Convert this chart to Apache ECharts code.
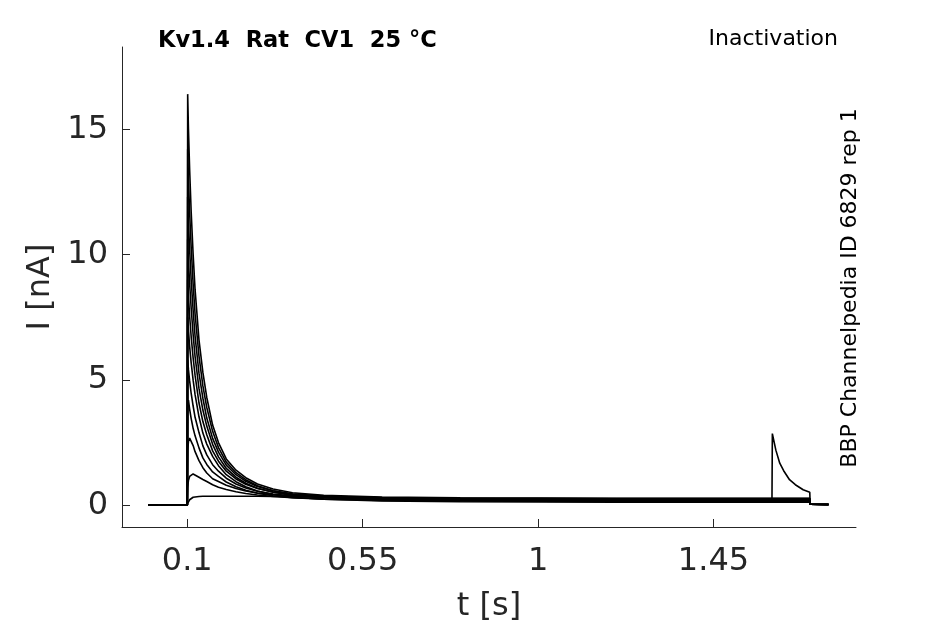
<!DOCTYPE html>
<html>
<head>
<meta charset="utf-8">
<script src="https://cdn.jsdelivr.net/npm/echarts@6/dist/echarts.min.js"></script>
<style>
  html, body { margin: 0; padding: 0; background: #fff; }
  #chart { width: 945px; height: 624px; }
</style>
</head>
<body>
<div id="chart"></div>
<script>
// time points [s], shared by all sweeps
const time = [0, 0.1,
  0.101, 0.103, 0.106, 0.11, 0.115, 0.12, 0.13, 0.14, 0.15, 0.165, 0.18, 0.2,
  0.225, 0.25, 0.28, 0.32, 0.37, 0.45, 0.6, 0.8, 1.0, 1.2, 1.4, 1.6,
  1.601, 1.61, 1.62, 1.63, 1.645, 1.66, 1.68, 1.697, 1.698, 1.745];

// current [nA] per sweep
const sweep1 = [0, 0, 16.4, 15.0, 13.4, 11.7, 10.0, 8.6, 6.6, 5.3, 4.3, 3.2, 2.5, 1.85, 1.4, 1.1, 0.85, 0.65, 0.5, 0.4, 0.33, 0.3, 0.29, 0.28, 0.28, 0.28,
  0.28, 0.28, 0.28, 0.28, 0.28, 0.28, 0.28, 0.28, 0.04, 0.03];
const sweep2 = [0, 0, 14.2, 13.04, 11.68, 10.29, 8.82, 7.63, 5.95, 4.76, 3.9, 2.95, 2.3, 1.72, 1.3, 1.02, 0.78, 0.58, 0.43, 0.31, 0.22, 0.18, 0.16, 0.15, 0.14, 0.14,
  0.14, 0.14, 0.14, 0.14, 0.14, 0.14, 0.14, 0.14, 0.04, 0.03];
const sweep3 = [0, 0, 12.3, 11.33, 10.19, 8.98, 7.77, 6.74, 5.27, 4.27, 3.48, 2.67, 2.12, 1.6, 1.22, 0.96, 0.75, 0.58, 0.46, 0.37, 0.3, 0.27, 0.25, 0.24, 0.24, 0.24,
  0.24, 0.24, 0.24, 0.24, 0.24, 0.24, 0.24, 0.24, 0.04, 0.03];
const sweep4 = [0, 0, 10.6, 9.77, 8.84, 7.85, 6.81, 5.93, 4.66, 3.8, 3.16, 2.43, 1.93, 1.47, 1.12, 0.88, 0.68, 0.52, 0.39, 0.3, 0.23, 0.2, 0.18, 0.17, 0.17, 0.17,
  0.17, 0.17, 0.17, 0.17, 0.17, 0.17, 0.17, 0.17, 0.04, 0.03];
const sweep5 = [0, 0, 9.0, 8.34, 7.55, 6.72, 5.88, 5.18, 4.08, 3.34, 2.81, 2.17, 1.76, 1.36, 1.05, 0.84, 0.67, 0.53, 0.43, 0.36, 0.3, 0.28, 0.27, 0.26, 0.26, 0.26,
  0.26, 0.26, 0.26, 0.26, 0.26, 0.26, 0.26, 0.26, 0.04, 0.03];
const sweep6 = [0, 0, 7.5, 6.99, 6.34, 5.68, 4.99, 4.41, 3.53, 2.88, 2.44, 1.95, 1.58, 1.22, 0.94, 0.74, 0.57, 0.43, 0.32, 0.24, 0.17, 0.14, 0.13, 0.12, 0.12, 0.12,
  0.12, 0.12, 0.12, 0.12, 0.12, 0.12, 0.12, 0.12, 0.04, 0.03];
const sweep7 = [0, 0, 5.8, 5.41, 4.96, 4.46, 3.96, 3.51, 2.9, 2.37, 2.01, 1.62, 1.36, 1.08, 0.85, 0.69, 0.56, 0.45, 0.37, 0.31, 0.26, 0.24, 0.23, 0.22, 0.22, 0.22,
  0.22, 0.22, 0.22, 0.22, 0.22, 0.22, 0.22, 0.22, 0.04, 0.03];
const sweep8 = [0, 0, 3.9, 4.2, 3.84, 3.46, 3.07, 2.77, 2.29, 1.89, 1.63, 1.33, 1.15, 0.93, 0.74, 0.6, 0.48, 0.38, 0.3, 0.24, 0.19, 0.17, 0.16, 0.15, 0.15, 0.15,
  0.15, 0.15, 0.15, 0.15, 0.15, 0.15, 0.15, 0.15, 0.04, 0.03];
const sweep9 = [0, 0, 2.2, 2.55, 2.68, 2.7, 2.38, 2.14, 1.78, 1.5, 1.29, 1.06, 0.95, 0.8, 0.67, 0.57, 0.49, 0.42, 0.37, 0.33, 0.3, 0.28, 0.27, 0.27, 0.27, 0.27,
  0.27, 0.27, 0.27, 0.27, 0.27, 0.27, 0.27, 0.27, 0.04, 0.03];
const sweep10 = [0, 0, 0.7, 1.0, 1.15, 1.22, 1.25, 1.22, 1.12, 1.03, 0.95, 0.82, 0.72, 0.63, 0.54, 0.47, 0.41, 0.35, 0.3, 0.26, 0.22, 0.2, 0.2, 0.19, 0.19, 0.19,
  0.19, 0.19, 0.19, 0.19, 0.19, 0.19, 0.19, 0.19, 0.04, 0.03];
const sweep11 = [0, 0, 0.08, 0.15, 0.22, 0.28, 0.32, 0.34, 0.35, 0.36, 0.36, 0.36, 0.36, 0.36, 0.36, 0.36, 0.36, 0.35, 0.35, 0.34, 0.29, 0.25, 0.23, 0.22, 0.21, 0.21,
  2.86, 2.2, 1.68, 1.38, 1.02, 0.82, 0.62, 0.52, 0.04, 0.03];

const sweeps = [sweep1, sweep2, sweep3, sweep4, sweep5, sweep6, sweep7, sweep8, sweep9, sweep10, sweep11];

const xTicks = [0.1, 0.55, 1, 1.45];
const yTicks = [0, 5, 10, 15];

const chart = echarts.init(document.getElementById('chart'), null, { renderer: 'canvas' });

const textColor = '#262626';

const option = {
  animation: false,
  backgroundColor: '#fff',
  grid: { left: 122, right: 89, top: 47, bottom: 97, outerBoundsMode: 'none' },
  xAxis: {
    type: 'value',
    min: -0.0675,
    max: 1.8156,
    name: 't [s]',
    nameLocation: 'middle',
    nameGap: 64,
    nameTextStyle: { fontSize: 32, color: textColor, fontFamily: 'DejaVu Sans' },
    axisLine: { onZero: false, lineStyle: { color: textColor, width: 1 } },
    axisTick: { show: true, inside: true, length: 8, customValues: xTicks, lineStyle: { color: textColor, width: 1 } },
    axisLabel: {
      customValues: xTicks, fontSize: 32, color: textColor, margin: 19,
      fontFamily: 'DejaVu Sans',
      formatter: v => String(v)
    },
    splitLine: { show: false }
  },
  yAxis: {
    type: 'value',
    min: -0.866,
    max: 18.28,
    name: 'I [nA]',
    nameLocation: 'middle',
    nameGap: 60,
    nameTextStyle: { fontSize: 32, color: textColor, fontFamily: 'DejaVu Sans' },
    axisLine: { show: true, onZero: false, lineStyle: { color: textColor, width: 1 } },
    axisTick: { show: true, inside: true, length: 8, customValues: yTicks, lineStyle: { color: textColor, width: 1 } },
    axisLabel: {
      customValues: yTicks, fontSize: 32, color: textColor, margin: 14,
      fontFamily: 'DejaVu Sans'
    },
    splitLine: { show: false }
  },
  graphic: [
    {
      type: 'text', left: 158, top: 30,
      style: { text: 'Kv1.4  Rat  CV1  25 °C', font: 'bold 22.5px "DejaVu Sans"', fill: '#000' }
    },
    {
      type: 'text', right: 107, top: 28,
      style: { text: 'Inactivation', font: '22px "DejaVu Sans"', fill: '#000' }
    },
    {
      type: 'text', x: 850, y: 288, rotation: Math.PI / 2,
      style: {
        text: 'BBP Channelpedia ID 6829 rep 1', font: '22px "DejaVu Sans"', fill: '#000',
        align: 'center', verticalAlign: 'middle'
      }
    }
  ],
  series: sweeps.map(vals => ({
    type: 'line',
    data: time.map((t, i) => [t, vals[i]]),
    showSymbol: false,
    silent: true,
    lineStyle: { color: '#000', width: 1.6 }
  }))
};

chart.setOption(option);
</script>
</body>
</html>
